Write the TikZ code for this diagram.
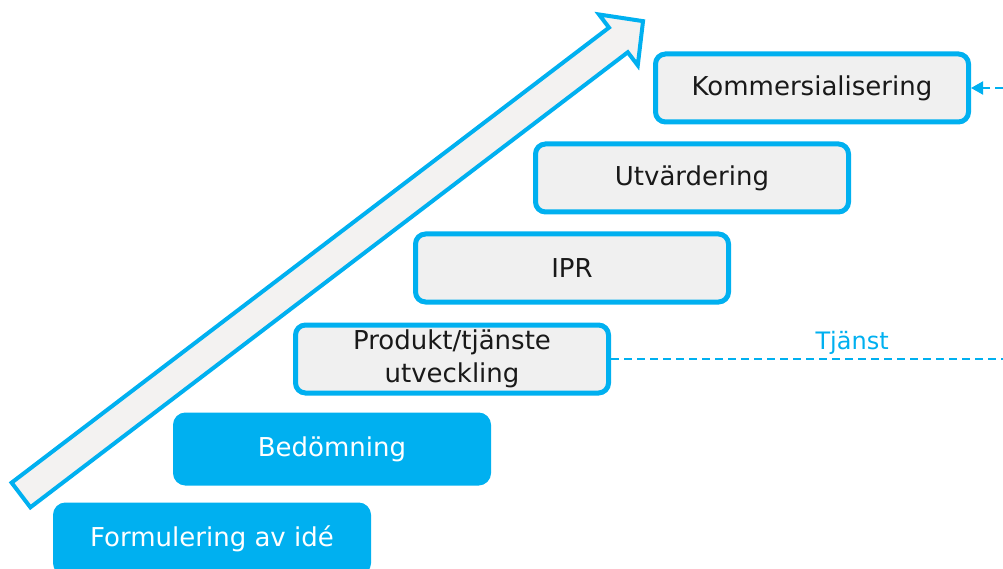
\documentclass[tikz,border=0pt]{standalone}
\usepackage{fontspec}
\setmainfont{DejaVu Sans}
\usetikzlibrary{arrows.meta,positioning}
\definecolor{stepcyan}{HTML}{00B0F0}
\definecolor{stepgray}{HTML}{F0F0F0}
\definecolor{arrowfill}{HTML}{F3F2F1}
\tikzset{
  stage/.style={rounded corners=10pt, line width=5pt, draw=stepcyan, minimum width=313pt, minimum height=68pt, inner sep=0pt, align=center, font=\fontsize{26}{33}\selectfont},
  donestage/.style={stage, fill=stepcyan, text=white},
  openstage/.style={stage, fill=stepgray, text=black!90},
  climb/.style={draw=stepcyan, fill=arrowfill, line width=4pt, line join=miter},
  link/.style={stepcyan, line width=2pt, dash pattern=on 8pt off 5pt},
  note/.style={font=\fontsize{24}{28}\selectfont, text=stepcyan, inner sep=4pt}
}

\begin{document}
\begin{tikzpicture}[x=1pt,y=-1pt]
  \useasboundingbox (0,0) rectangle (1003,569);
  \clip (0,0) rectangle (1003,569);
  % rising arrow
  \begin{scope}[shift={(21,495)},rotate=37.3]
    \draw[climb] (0,-15.5) -- (751,-15.5) -- (751,-32) -- (782,0) -- (751,32) -- (751,15.5) -- (0,15.5) -- cycle;
  \end{scope}
  \node[donestage] (idea) at (212,539) {Formulering av idé};
  \node[donestage] (assess) at (332,449) {Bedömning};
  \node[openstage] (develop) at (452,359) {Produkt/tjänste\\utveckling};
  \node[openstage] (ipr) at (572,268) {IPR};
  \node[openstage] (evaluate) at (692,178) {Utvärdering};
  \node[openstage] (commerce) at (812,88) {Kommersialisering};
  \coordinate (rimlow) at (1003,359);
  \coordinate (rimtop) at (1003,88);
  \draw[link] (develop.east) -- node[note, above, pos=0.615] (service) {Tjänst} (rimlow);
  \draw[link,-{Triangle[length=12pt,width=13pt]}] (rimtop) -- (commerce.east);
\end{tikzpicture}
\end{document}
